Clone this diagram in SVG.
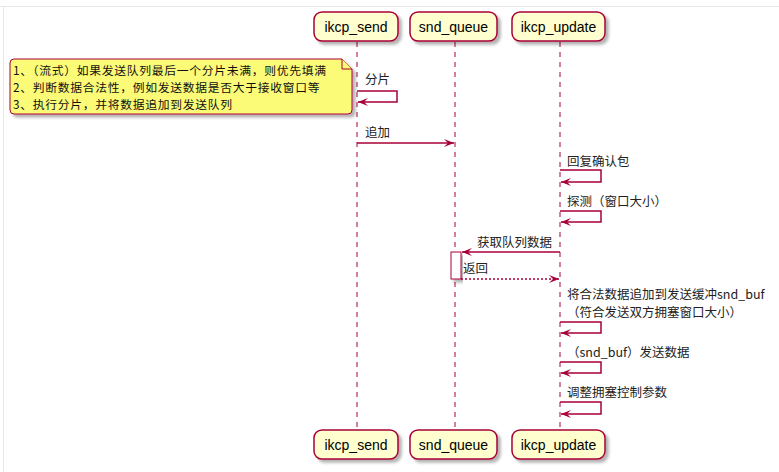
<svg xmlns="http://www.w3.org/2000/svg" width="779" height="472" viewBox="0 0 779 472">
<style>
.bg{fill:#ffffff}
.frame{stroke:#e6e8ea;stroke-width:1;fill:none}
.part rect{fill:#FEFECE;stroke:#A80036;stroke-width:1.5}
.part text{font-family:"Liberation Sans",Arial,sans-serif;font-size:14px;fill:#000;text-anchor:middle}
.life{stroke:#A80036;stroke-width:1;stroke-dasharray:5,5}
.msg{stroke:#A80036;stroke-width:1.5;fill:none}
.ret{stroke:#A80036;stroke-width:1.5;fill:none;stroke-dasharray:2,2}
.lbl{font-family:"Noto Sans CJK SC","Liberation Sans",sans-serif;font-size:12.5px;fill:#222}
.nt{font-family:"Noto Sans CJK SC","Liberation Sans",sans-serif;font-size:11.8px;letter-spacing:0.7px;fill:#111}
.note path{fill:#FBFB77;stroke:#A80036;stroke-width:1}
.act{fill:#ffffff;stroke:#A80036;stroke-width:1}
</style>
<defs>
<filter id="sh" x="-10%" y="-10%" width="130%" height="140%">
<feDropShadow dx="3" dy="3" stdDeviation="1.5" flood-color="#000" flood-opacity="0.3"/>
</filter>
<marker id="ah" viewBox="0 0 10 8" refX="10" refY="4" markerWidth="10" markerHeight="8" markerUnits="userSpaceOnUse" orient="auto">
<path d="M0,0 L10,4 L0,8 L4,4 Z" fill="#A80036"/>
</marker>
</defs>
<rect class="bg" x="0" y="0" width="779" height="472"/>
<path class="frame" d="M0,6.5 H779 M3.5,6.5 V472"/>

<g id="lifelines">
<line class="life" x1="357" y1="42" x2="357" y2="430"/>
<line class="life" x1="455" y1="42" x2="455" y2="430"/>
<line class="life" x1="560" y1="42" x2="560" y2="430"/>
</g>

<g id="ikcp_send" class="part">
<rect x="314" y="12" width="84" height="29" rx="8" filter="url(#sh)"/>
<text x="356" y="31.5">ikcp_send</text>
<rect x="314" y="430" width="84" height="29" rx="8" filter="url(#sh)"/>
<text x="356" y="449.5">ikcp_send</text>
</g>
<g id="snd_queue" class="part">
<rect x="410" y="12" width="87" height="29" rx="8" filter="url(#sh)"/>
<text x="453.5" y="31.5">snd_queue</text>
<rect x="410" y="430" width="87" height="29" rx="8" filter="url(#sh)"/>
<text x="453.5" y="449.5">snd_queue</text>
</g>
<g id="ikcp_update" class="part">
<rect x="512" y="12" width="93" height="29" rx="8" filter="url(#sh)"/>
<text x="558.5" y="31.5">ikcp_update</text>
<rect x="512" y="430" width="93" height="29" rx="8" filter="url(#sh)"/>
<text x="558.5" y="449.5">ikcp_update</text>
</g>

<g id="note" class="note">
<path d="M14,59 H342 L352,69 V110 Q352,114 348,114 H14 Q10,114 10,110 V63 Q10,59 14,59 Z" filter="url(#sh)"/>
<path d="M342,59 V69 H352" fill="none"/>
<text class="nt" x="13" y="74.5">1、（流式）如果发送队列最后一个分片未满，则优先填满</text>
<text class="nt" x="13" y="91.8">2、判断数据合法性，例如发送数据是否大于接收窗口等</text>
<text class="nt" x="13" y="109.1">3、执行分片，并将数据追加到发送队列</text>
</g>

<g id="activation">
<rect class="act" x="451" y="252" width="10" height="27" filter="url(#sh)"/>
</g>

<g id="connectors">
<path class="msg" d="M357,91 H397 V102 H358" marker-end="url(#ah)"/>
<text class="lbl" x="365" y="84">分片</text>

<line class="msg" x1="357" y1="143" x2="454" y2="143" marker-end="url(#ah)"/>
<text class="lbl" x="365" y="137">追加</text>

<path class="msg" d="M560,170 H601 V182 H561" marker-end="url(#ah)"/>
<text class="lbl" x="567" y="166">回复确认包</text>

<path class="msg" d="M560,211 H601 V222 H561" marker-end="url(#ah)"/>
<text class="lbl" x="567" y="206">探测（窗口大小）</text>

<line class="msg" x1="560" y1="252" x2="462" y2="252" marker-end="url(#ah)"/>
<text class="lbl" x="477" y="247">获取队列数据</text>

<line class="ret" x1="461" y1="279" x2="559" y2="279" marker-end="url(#ah)"/>
<text class="lbl" x="463" y="273">返回</text>

<path class="msg" d="M560,322 H601 V333 H561" marker-end="url(#ah)"/>
<text class="lbl" x="567" y="298.5">将合法数据追加到发送缓冲snd_buf</text>
<text class="lbl" x="567" y="317">（符合发送双方拥塞窗口大小）</text>

<path class="msg" d="M560,362 H601 V373 H561" marker-end="url(#ah)"/>
<text class="lbl" x="567" y="357">（snd_buf）发送数据</text>

<path class="msg" d="M560,402 H601 V414 H561" marker-end="url(#ah)"/>
<text class="lbl" x="567" y="397">调整拥塞控制参数</text>
</g>
</svg>
